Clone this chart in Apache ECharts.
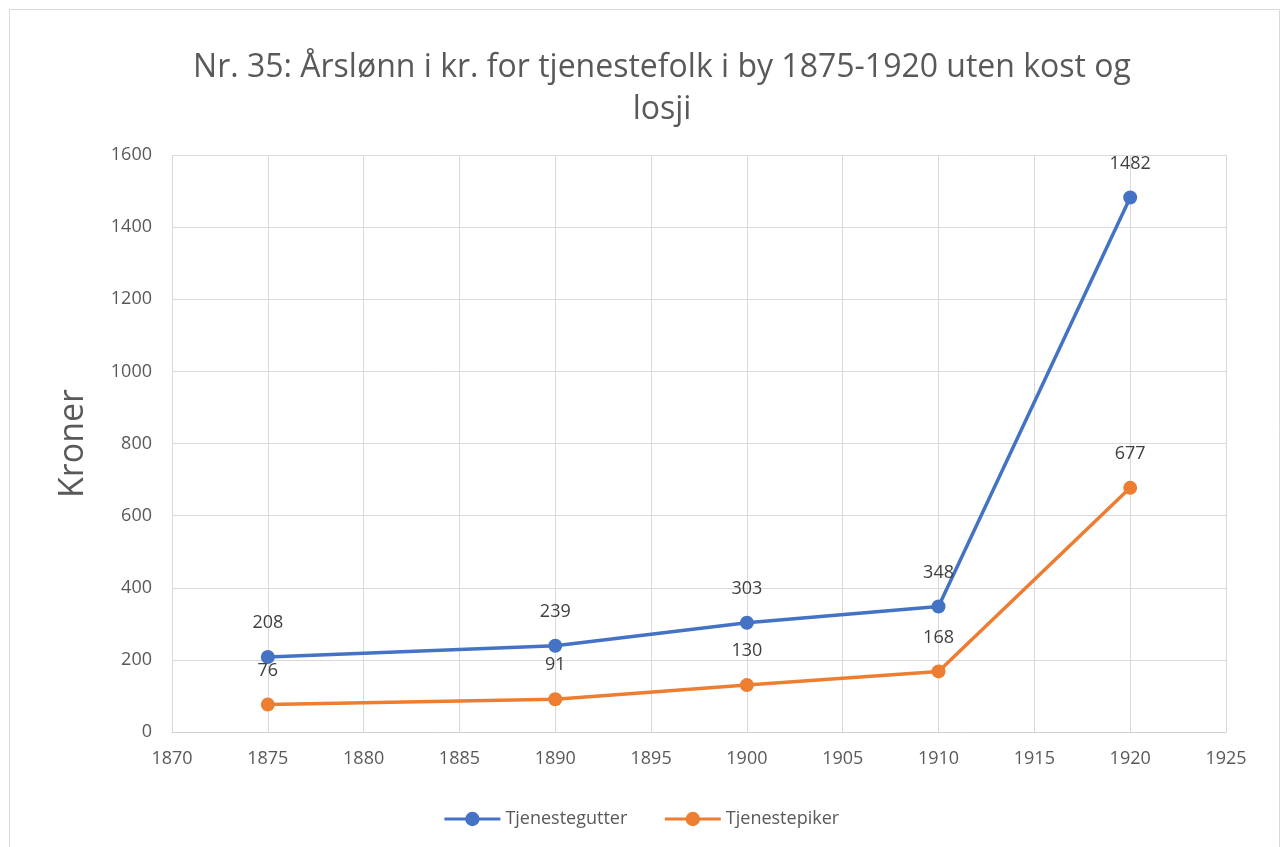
<!DOCTYPE html>
<html><head><meta charset="utf-8">
<script src="https://cdn.jsdelivr.net/npm/echarts@6/dist/echarts.min.js"></script>
<style>html,body{margin:0;padding:0;background:#fff}#c{width:1282px;height:847px}</style>
</head><body><div id="c"></div>
<script>
const years = [1875, 1890, 1900, 1910, 1920];
const gutter = [208, 239, 303, 348, 1482];
const piker = [76, 91, 130, 168, 677];
const seriesNames = ['Tjenestegutter', 'Tjenestepiker'];
const titleText = 'Nr. 35: Årslønn i kr. for tjenestefolk i by 1875-1920 uten kost og\nlosji';
const yName = 'Kroner';

const font = 'Open Sans';
const chart = echarts.init(document.getElementById('c'));
function mk(name, vals, color) {
  return {
    name, type: 'line', data: years.map((y, i) => [y, vals[i]]),
    symbol: 'circle', symbolSize: 14,
    lineStyle: { width: 3.5, color }, itemStyle: { color },
    label: { show: true, position: 'top', distance: 18, fontFamily: font, fontSize: 18, color: '#404040' },
    z: 3
  };
}
chart.setOption({
  animation: false,
  backgroundColor: '#fff',
  graphic: [{ type: 'rect', shape: { x: 9.5, y: 9.5, width: 1270, height: 850 }, style: { fill: 'none', stroke: '#d9d9d9', lineWidth: 1 }, silent: true }],
  title: {
    text: titleText, left: 657, top: 42, textAlign: 'center',
    textStyle: { fontFamily: font, fontSize: 32, fontWeight: 'normal', color: '#595959', lineHeight: 42 }
  },
  legend: {
    bottom: 14, left: 'center', itemWidth: 56, itemHeight: 18, itemGap: 36,
    lineStyle: { width: 3 },
    textStyle: { fontFamily: font, fontSize: 18, color: '#595959' },
    data: seriesNames
  },
  grid: { left: 172, right: 56, top: 155, bottom: 115, containLabel: false },
  xAxis: {
    type: 'value', min: 1870, max: 1925, interval: 5,
    axisLine: { show: true, lineStyle: { color: '#d0d0d0', width: 1 } },
    axisTick: { show: false },
    axisLabel: { fontFamily: font, fontSize: 18, color: '#595959', margin: 18, formatter: v => String(v) },
    splitLine: { show: true, lineStyle: { color: '#d9d9d9', width: 1 } }
  },
  yAxis: {
    type: 'value', min: 0, max: 1600, interval: 200,
    name: yName, nameLocation: 'middle', nameGap: 82, nameRotate: 90,
    nameTextStyle: { fontFamily: font, fontSize: 34, color: '#595959' },
    axisLine: { show: false }, axisTick: { show: false },
    axisLabel: { fontFamily: font, fontSize: 18, color: '#595959', margin: 20, formatter: v => String(v) },
    splitLine: { show: true, lineStyle: { color: '#d9d9d9', width: 1 } }
  },
  series: [mk(seriesNames[0], gutter, '#4472c4'), mk(seriesNames[1], piker, '#ed7d31')]
});
</script></body></html>
